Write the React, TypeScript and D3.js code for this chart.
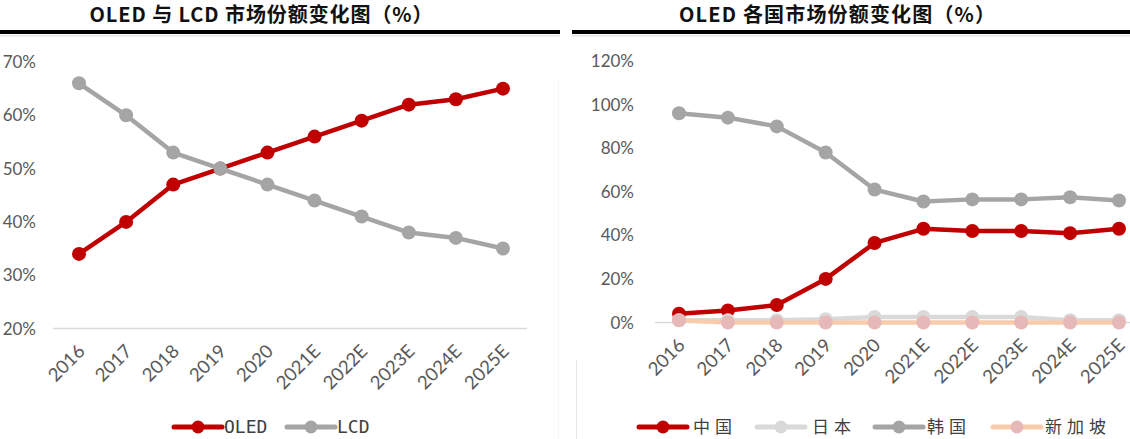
import React from "react";
import * as d3 from "d3";

const years = ["2016", "2017", "2018", "2019", "2020", "2021E", "2022E", "2023E", "2024E", "2025E"];
const oledShare = [34, 40, 47, 50, 53, 56, 59, 62, 63, 65];
const lcdShare = [66, 60, 53, 50, 47, 44, 41, 38, 37, 35];
const leftTicks = [20, 30, 40, 50, 60, 70];

const chinaShare = [4, 5.5, 8, 20, 36.5, 43, 42, 42, 41, 43];
const japanShare = [1, 1, 1, 1.5, 2.5, 2.5, 2.5, 2.5, 1, 1];
const koreaShare = [96, 94, 90, 78, 61, 55.5, 56.5, 56.5, 57.5, 56];
const singaporeShare = [1, 0, 0, 0, 0, 0, 0, 0, 0, 0];
const rightTicks = [0, 20, 40, 60, 80, 100, 120];

const leftTitle = "OLED 与 LCD 市场份额变化图（%）";
const rightTitle = "OLED 各国市场份额变化图（%）";

const RED = "#C00000";
const GRAY = "#A5A5A5";
const LIGHT = "#D9D9D9";
const PEACH = "#F8CBAD";
const PINK = "#E6B9B8";
const TXT = "#595959";
const NUMFONT = "Lato, 'Open Sans', sans-serif";
const CJK = "'Noto Sans CJK SC', sans-serif";

type Series = { name: string; values: number[]; line: string; marker: string };

function Panel(props: {
  x0: number; x1: number; title: string; titleX: number; titleLen: number;
  xRange: [number, number]; yDomain: [number, number]; yRange: [number, number];
  ticks: number[]; labelX: number; gridX: [number, number];
  series: Series[]; legend: { lineX: number; textX: number }[]; legendFont: string; legendSpacing: number; legendSize: number;
}) {
  const x = d3.scalePoint<string>().domain(years).range(props.xRange);
  const y = d3.scaleLinear().domain(props.yDomain).range(props.yRange);
  const line = d3.line<number>().x((_, i) => x(years[i]) as number).y((v) => y(v));
  return (
    <g>
      <text x={props.titleX} y={22} textAnchor="middle" fontFamily={CJK} fontWeight={700} fontSize={20}
        fill="#111" textLength={props.titleLen} lengthAdjust="spacing">{props.title}</text>
      <rect x={props.x0} y={30} width={props.x1 - props.x0} height={4} fill="#000" />
      <rect x={props.x0} y={35} width={props.x1 - props.x0} height={1.5} fill="#E3E3E3" />
      <line x1={props.gridX[0]} x2={props.gridX[1]} y1={y(props.yDomain[0])} y2={y(props.yDomain[0])} stroke="#D9D9D9" strokeWidth={1.5} />
      {props.ticks.map((t) => (
        <text key={t} x={props.labelX} y={y(t)} dy="0.36em" textAnchor="end" fontFamily={NUMFONT} fontSize={17} fill={TXT}>{t}%</text>
      ))}
      {years.map((yr) => (
        <text key={yr} transform={`translate(${(x(yr) as number) + 7},${y(props.yDomain[0]) + 24}) rotate(-45)`}
          textAnchor="end" fontFamily={NUMFONT} fontSize={18.5} fill={TXT}>{yr}</text>
      ))}
      {props.series.map((s) => (
        <g key={s.name}>
          <path d={line(s.values) as string} fill="none" stroke={s.line} strokeWidth={4.5} strokeLinejoin="round" />
          {s.values.map((v, i) => (
            <circle key={i} cx={x(years[i]) as number} cy={y(v)} r={7} fill={s.marker} />
          ))}
        </g>
      ))}
      {props.series.map((s, i) => {
        const lg = props.legend[i];
        return (
          <g key={"lg" + s.name}>
            <line x1={lg.lineX} x2={lg.lineX + 48} y1={427} y2={427} stroke={s.line} strokeWidth={5} strokeLinecap="round" />
            <circle cx={lg.lineX + 24} cy={427} r={6.5} fill={s.marker} />
            <text x={lg.textX} y={427} dy="0.36em" fontFamily={props.legendFont} fontSize={props.legendSize}
              letterSpacing={props.legendSpacing} fill="#404040">{s.name}</text>
          </g>
        );
      })}
    </g>
  );
}

export default function App() {
  return (
    <svg width={1130} height={439} style={{ position: "absolute", left: 0, top: 0, background: "#fff" }}>
      <rect width={1130} height={439} fill="#fff" />
      <line x1={558.5} x2={558.5} y1={80} y2={439} stroke="#F5F5F5" strokeWidth={1} />
      <line x1={576.5} x2={576.5} y1={360} y2={439} stroke="#E6E6E6" strokeWidth={1} />
      <Panel x0={0} x1={560} title={leftTitle} titleX={261} titleLen={343}
        xRange={[79, 503]} yDomain={[20, 70]} yRange={[328.5, 62]} ticks={leftTicks} labelX={36} gridX={[53, 527]}
        series={[
          { name: "OLED", values: oledShare, line: RED, marker: RED },
          { name: "LCD", values: lcdShare, line: GRAY, marker: GRAY },
        ]}
        legend={[{ lineX: 174, textX: 224 }, { lineX: 287, textX: 337 }]}
        legendFont="'DejaVu Sans Mono', monospace" legendSpacing={0} legendSize={18} />
      <Panel x0={572} x1={1130} title={rightTitle} titleX={837} titleLen={316}
        xRange={[679, 1119]} yDomain={[0, 120]} yRange={[322.5, 61]} ticks={rightTicks} labelX={634} gridX={[655, 1130]}
        series={[
          { name: "中国", values: chinaShare, line: RED, marker: RED },
          { name: "日本", values: japanShare, line: LIGHT, marker: LIGHT },
          { name: "韩国", values: koreaShare, line: GRAY, marker: GRAY },
          { name: "新加坡", values: singaporeShare, line: PEACH, marker: PINK },
        ]}
        legend={[{ lineX: 639, textX: 693 }, { lineX: 757, textX: 812 }, { lineX: 875, textX: 927 }, { lineX: 993, textX: 1045 }]}
        legendFont={CJK} legendSpacing={5} legendSize={17} />
    </svg>
  );
}
